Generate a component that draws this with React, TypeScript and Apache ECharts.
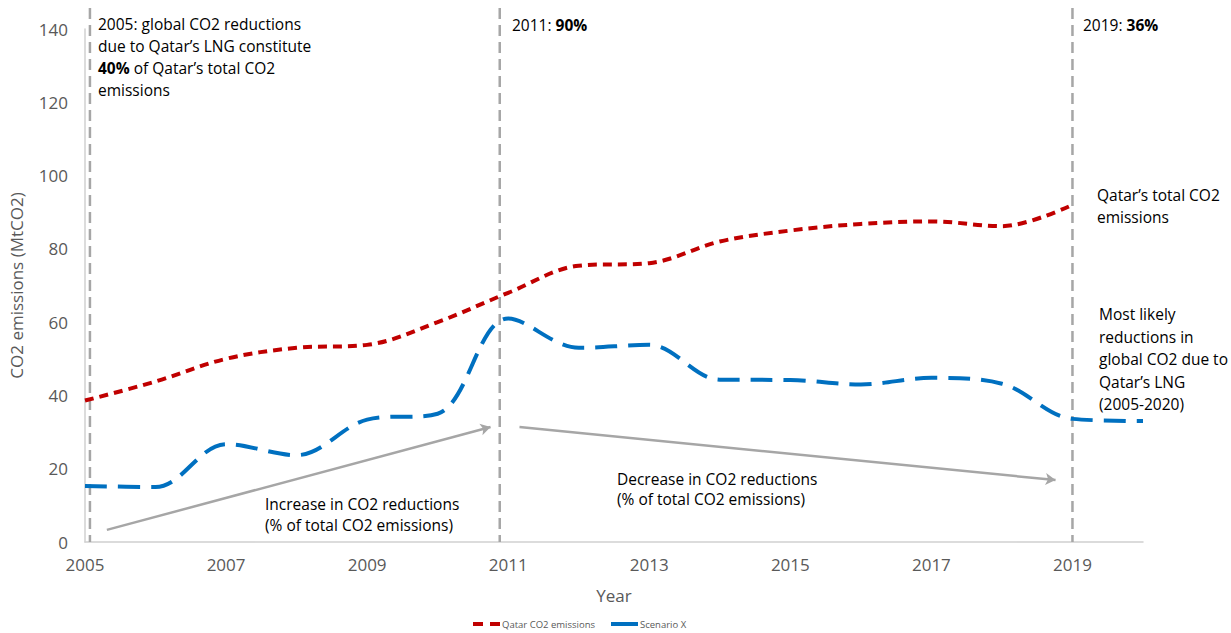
import React, { useEffect, useRef } from "react";
import * as echarts from "echarts";

// Years on the horizontal axis
const years = [2005, 2006, 2007, 2008, 2009, 2010, 2011, 2012, 2013, 2014, 2015, 2016, 2017, 2018, 2019, 2020];

// Qatar's total CO2 emissions (MtCO2), 2005–2019
const qatarEmissions = [38.6, 43.8, 50.0, 53.0, 53.8, 60.0, 68.0, 75.4, 76.1, 82.0, 85.0, 86.8, 87.5, 86.2, 92.0];

// Most likely reductions in global CO2 due to Qatar's LNG (MtCO2), 2005–2020
const scenarioX = [15.3, 15.0, 26.7, 23.7, 33.4, 35.0, 61.0, 53.0, 53.8, 44.3, 44.2, 43.0, 44.8, 43.2, 33.6, 33.0];

// Milestone years marked with vertical dashed rules
const milestoneYears = [2005.07, 2010.88, 2019.0];

// Trend arrows: [startYear, startValue, endYear, endValue]
const trendArrows = [
  [2005.31, 3.3, 2010.75, 31.4],
  [2011.16, 31.4, 2018.76, 16.9],
];

const FONT = "'Open Sans', 'Noto Sans', sans-serif";
const AXIS_GREY = "#595959";
const RULE_GREY = "#A6A6A6";
const NOTE_SIZE = 15.5;

export default function App() {
  const ref = useRef<HTMLDivElement>(null);

  useEffect(() => {
    if (!ref.current) return;
    const chart = echarts.init(ref.current, null, { renderer: "svg" });

    const option: any = {
      animation: false,
      textStyle: { fontFamily: FONT },
      grid: { left: 81, right: 88, top: 29, bottom: 91, containLabel: false },
      legend: {
        top: 619,
        left: 473,
        padding: 0,
        itemWidth: 27,
        itemHeight: 4,
        itemGap: 16,
        textStyle: { fontSize: 9.5, color: AXIS_GREY, fontFamily: FONT, padding: [0, 0, 0, -3] },
        data: [
          { name: "Qatar CO2 emissions", icon: "path://M0,0h10v4h-10z M17,0h10v4h-10z" },
          { name: "Scenario X", icon: "rect" },
        ],
      },
      xAxis: {
        type: "value",
        min: 2005,
        max: 2020,
        interval: 1,
        name: "Year",
        nameLocation: "middle",
        nameGap: 45,
        nameTextStyle: { fontSize: 17, color: AXIS_GREY, fontFamily: FONT },
        axisLine: { show: true, lineStyle: { color: "#D0D0D0", width: 1.5 } },
        axisTick: { show: false },
        splitLine: { show: false },
        axisLabel: {
          fontSize: 17,
          color: AXIS_GREY,
          margin: 14,
          formatter: (v: number) => (Math.round(v) % 2 === 1 && v < 2020 ? String(v) : ""),
        },
      },
      yAxis: {
        type: "value",
        min: 0,
        max: 140,
        interval: 20,
        name: "CO2 emissions (MtCO2)",
        nameLocation: "middle",
        nameGap: 60,
        nameTextStyle: { fontSize: 17, color: AXIS_GREY, fontFamily: FONT },
        axisLine: { show: true, lineStyle: { color: "#D0D0D0", width: 1.5 } },
        axisTick: { show: false },
        splitLine: { show: false },
        axisLabel: { fontSize: 17, color: AXIS_GREY, margin: 17 },
      },
      series: [
        {
          name: "Qatar CO2 emissions",
          type: "line",
          smooth: 0.35,
          symbol: "none",
          color: "#C00000",
          lineStyle: { color: "#C00000", width: 4, type: [9, 6] },
          data: qatarEmissions.map((v, i) => [years[i], v]),
          z: 3,
        },
        {
          name: "Scenario X",
          type: "line",
          smooth: 0.35,
          symbol: "none",
          color: "#0070C0",
          lineStyle: { color: "#0070C0", width: 4, type: [22, 11] },
          data: scenarioX.map((v, i) => [years[i], v]),
          z: 3,
          markLine: {
            silent: true,
            symbol: ["none", "arrow"],
            symbolSize: [9, 10],
            label: { show: false },
            lineStyle: { color: RULE_GREY, width: 2.5, type: "solid" },
            data: trendArrows.map(([x1, y1, x2, y2]) => [
              { coord: [x1, y1] },
              { coord: [x2, y2] },
            ]),
          },
        },
      ],
    };

    chart.setOption(option);

    // Vertical dashed milestone rules, placed through the axis scale
    const yBottom = chart.convertToPixel({ yAxisIndex: 0 }, 0) as number;
    const rules = milestoneYears.map((yr) => {
      const x = chart.convertToPixel({ xAxisIndex: 0 }, yr) as number;
      return {
        type: "line",
        silent: true,
        z: 1,
        shape: { x1: x, y1: 8, x2: x, y2: yBottom },
        style: { stroke: RULE_GREY, lineWidth: 2.5, lineDash: [11, 6] },
      };
    });

    const txt = (x: number, y: number, text: string, lineHeight = 22) => ({
      type: "text",
      silent: true,
      z: 5,
      x,
      y,
      style: {
        text,
        fill: "#000000",
        fontSize: NOTE_SIZE,
        fontFamily: FONT,
        lineHeight,
        rich: {
          b: { fontWeight: "bold", fontSize: NOTE_SIZE, fontFamily: FONT, fill: "#000000", lineHeight },
        },
      },
    });

    chart.setOption({
      graphic: [
        ...rules,
        txt(98, 13, "2005: global CO2 reductions\ndue to Qatar’s LNG constitute\n{b|40%} of Qatar’s total CO2\nemissions"),
        txt(512, 14, "2011: {b|90%}"),
        txt(1083, 14, "2019: {b|36%}"),
        txt(1097, 184, "Qatar’s total CO2\nemissions"),
        txt(1099, 303, "Most likely\nreductions in\nglobal CO2 due to\nQatar’s LNG\n(2005-2020)", 22.5),
        txt(265, 493, "Increase in CO2 reductions\n(% of total CO2 emissions)", 21),
        txt(617, 469, "Decrease in CO2 reductions\n(% of total CO2 emissions)", 20),
      ],
    });

    return () => chart.dispose();
  }, []);

  return (
    <div
      ref={ref}
      style={{ position: "absolute", left: 0, top: 0, width: 1231, height: 633 }}
    />
  );
}
